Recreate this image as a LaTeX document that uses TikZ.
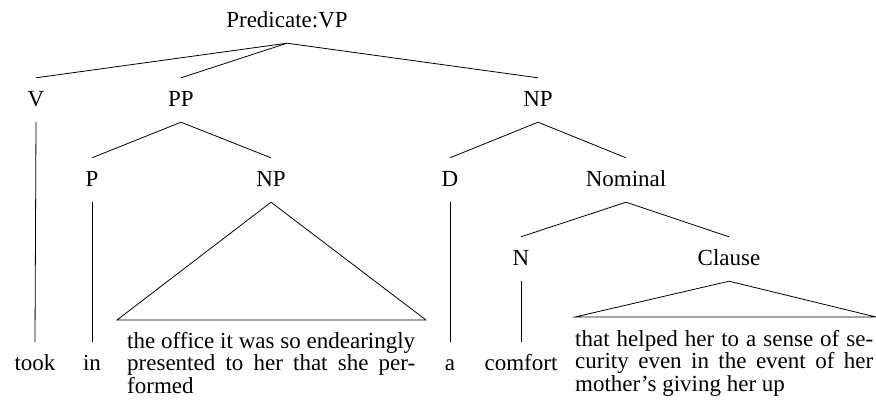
\documentclass[tikz,border=0pt]{standalone}
\usepackage{fontspec}
\setmainfont{Liberation Serif}
\newcommand{\treefont}{\fontsize{23}{22.5}\selectfont}
\begin{document}
\begin{tikzpicture}[x=1pt,y=-1pt,
  lab/.style={anchor=base, inner xsep=0pt, inner ysep=16pt,
              text height=12pt, text depth=0pt, font=\treefont},
  blk/.style={anchor=base west, inner sep=0pt, font=\treefont},
  edge/.style={line width=0.8pt}]
\useasboundingbox (0,0) rectangle (876,400);

% phrase labels
\node[lab] (vp)  at (287,27)  {Predicate:VP};
\node[lab] (v)   at (36,106)  {V};
\node[lab] (pp)  at (181,106) {PP};
\node[lab] (np)  at (538,106) {NP};
\node[lab] (p)   at (92,186)  {P};
\node[lab] (npb) at (271,186) {NP};
\node[lab] (d)   at (450,186) {D};
\node[lab] (nom) at (626,186) {Nominal};
\node[lab] (n)   at (521,265) {N};
\node[lab] (cl)  at (729,265) {Clause};

% single-word leaves
\node[lab] (took)    at (35,370)  {took};
\node[lab] (in)      at (92,370)  {in};
\node[lab] (a)       at (450,370) {a};
\node[lab] (comfort) at (521,370) {comfort};

% multi-word leaves under the triangles
\node[blk] (nptext) at (127,348) {\vtop{\baselineskip=22.5pt
  \hbox to 288pt{the office it was so endearingly}
  \hbox to 288pt{presented to her that she per-}
  \hbox{formed}}};
\node[blk] (cltext) at (575,346) {\vtop{\baselineskip=22.5pt
  \hbox to 298pt{that helped her to a sense of se-}
  \hbox to 298pt{curity even in the event of her}
  \hbox{mother’s giving her up}}};

% triangle base corners
\coordinate (npL) at (117,320);
\coordinate (npR) at (426,320);
\coordinate (clL) at (575,317);
\coordinate (clR) at (876,317);

% branches
\draw[edge] (vp.south) -- (v.north);
\draw[edge] (vp.south) -- (pp.north);
\draw[edge] (vp.south) -- (np.north);
\draw[edge] (pp.south) -- (p.north);
\draw[edge] (pp.south) -- (npb.north);
\draw[edge] (np.south) -- (d.north);
\draw[edge] (np.south) -- (nom.north);
\draw[edge] (nom.south) -- (n.north);
\draw[edge] (nom.south) -- (cl.north);
\draw[edge] (v.south) -- (took.north);
\draw[edge] (p.south) -- (in.north);
\draw[edge] (d.south) -- (a.north);
\draw[edge] (n.south) -- (comfort.north);
\draw[edge] (npb.south) -- (npL) -- (npR) -- cycle;
\draw[edge] (cl.south) -- (clL) -- (clR) -- cycle;
\end{tikzpicture}
\end{document}
